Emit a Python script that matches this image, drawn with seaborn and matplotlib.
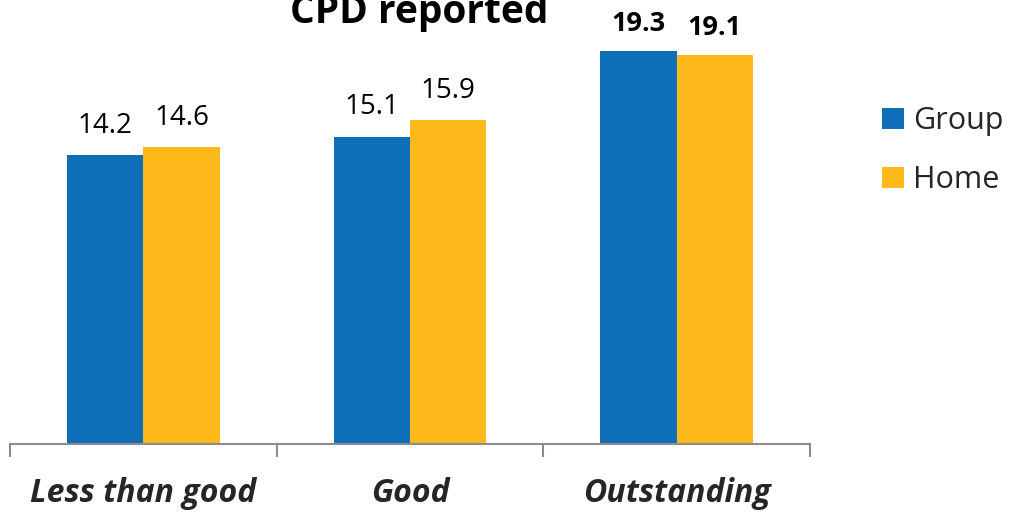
import matplotlib
matplotlib.use("Agg")
import matplotlib.pyplot as plt
import seaborn as sns
import pandas as pd

categories = ["Less than good", "Good", "Outstanding"]
group_values = [14.2, 15.1, 19.3]
home_values = [14.6, 15.9, 19.1]
series_names = ["Group", "Home"]

df = pd.DataFrame({
    "category": categories * 2,
    "series": [series_names[0]] * 3 + [series_names[1]] * 3,
    "value": group_values + home_values,
})

sns.set_theme(style="white")
FONT = "Open Sans"
plt.rcParams["font.family"] = [FONT, "DejaVu Sans"]

W, H = 1009, 512
fig = plt.figure(figsize=(W / 100, H / 100), dpi=100)
ax = fig.add_axes([10 / W, (H - 444) / H, 800 / W, 444 / H])

palette = {"Group": "#0E6EB7", "Home": "#FDB819"}
sns.barplot(data=df, x="category", y="value", hue="series", order=categories,
            hue_order=series_names, palette=palette, width=0.573, gap=0,
            saturation=1, ax=ax, legend=True, edgecolor="none")

ax.set_xlim(-0.5, 2.5)
ax.set_ylim(0, 444 / 20.35)
ax.set_xlabel("")
ax.set_ylabel("")
ax.set_yticks([])
for s in ["left", "right", "top"]:
    ax.spines[s].set_visible(False)
ax.spines["bottom"].set_color("#8C8C8C")
ax.spines["bottom"].set_linewidth(1.5)

ax.set_xticks([0, 1, 2])
ax.set_xticklabels(categories, fontsize=23, fontweight="bold", fontstyle="italic")
ax.tick_params(axis="x", which="major", length=0, pad=24)
ax.set_xticks([-0.5, 0.5, 1.5, 2.5], minor=True)
ax.tick_params(axis="x", which="minor", length=9, width=1.5, color="#8C8C8C",
               direction="out", bottom=True)

for cont, vals in zip(ax.containers, [group_values, home_values]):
    for bar, v in zip(cont, vals):
        bold = v > 19
        ax.annotate(f"{v:.1f}", (bar.get_x() + bar.get_width() / 2, bar.get_height()),
                    xytext=(0, 14.5 if bold else 16), textcoords="offset points",
                    ha="center", va="baseline",
                    fontsize=19.5 if bold else 20,
                    fontweight="bold" if bold else "normal", color="black")

handles, labels = ax.get_legend_handles_labels()
ax.legend(handles, labels, loc="upper left", bbox_to_anchor=(870 / W, 1 - 94 / H),
          bbox_transform=fig.transFigure, frameon=False, fontsize=22,
          handlelength=0.7, handleheight=0.7, handletextpad=0.3, labelspacing=0.95,
          borderaxespad=0)

fig.text(419 / W, 1 - 23 / H, "CPD reported", ha="center", va="baseline",
         fontsize=28, fontweight="bold", color="black")

fig.savefig("out.png", dpi=100)
